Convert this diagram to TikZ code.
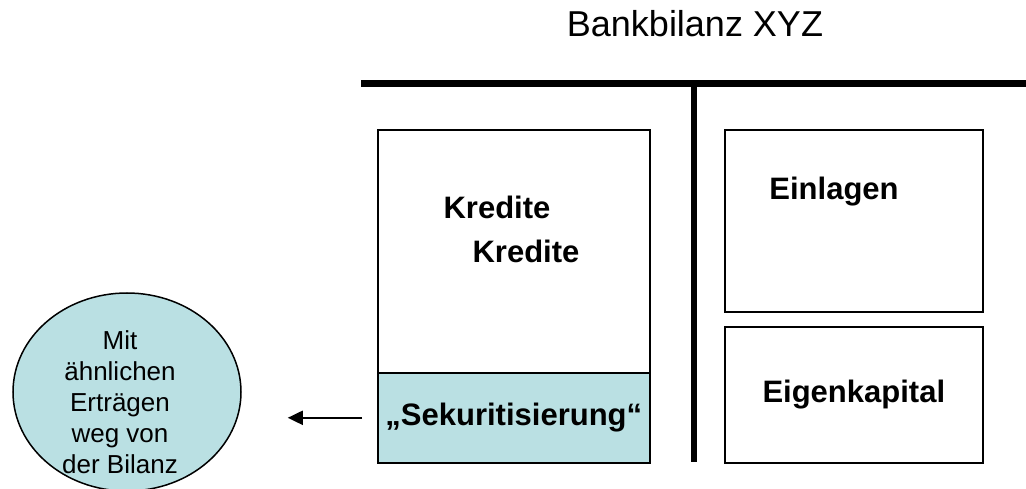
\documentclass[tikz,border=0pt]{standalone}
\usepackage{fontspec}
\setmainfont{Liberation Sans}
\usetikzlibrary{shapes.geometric,arrows.meta}
\definecolor{securblue}{RGB}{186,224,227}
\begin{document}
\begin{tikzpicture}[x=1pt,y=-1pt,
  boxframe/.style={draw=black,line width=1.6pt,inner sep=0pt,anchor=north west},
  itemlabel/.style={font=\fontsize{31}{36}\selectfont\bfseries,inner sep=0pt},
  flowarrow/.style={line width=2pt,-{Triangle[length=15pt,width=14pt]}}]
\useasboundingbox (0,0) rectangle (1026,489);

% title
\node[font=\fontsize{36}{40}\selectfont,anchor=base] (title) at (695,37) {Bankbilanz XYZ};

% T-account frame
\coordinate (tl) at (361,83.5);
\coordinate (tr) at (1026,83.5);
\coordinate (tm) at (694,83.5);
\coordinate (tb) at (694,462);
\draw[line width=7pt] (tl) -- (tr);
\draw[line width=6pt] (tm) -- (tb);

% assets side
\node[boxframe,minimum width=272pt,minimum height=243pt] (kred) at (377,129) {};
\node[boxframe,fill=securblue,minimum width=272pt,minimum height=90pt] (sek) at (377,372) {};
\node[itemlabel] (k1) at (497,207) {Kredite};
\node[itemlabel] (k2) at (526,251) {Kredite};
\node[itemlabel] (sektext) at (sek.center) {„Sekuritisierung“};

% liabilities side
\node[boxframe,minimum width=258pt,minimum height=182pt] (einl) at (724,129) {};
\node[boxframe,minimum width=258pt,minimum height=136pt] (eigk) at (724,326) {};
\node[itemlabel] (einltext) at (834,192) {Einlagen};
\node[itemlabel] (eigktext) at (eigk.center) {Eigenkapital};

% off-balance vehicle
\node[ellipse,draw=black,line width=1.5pt,fill=securblue,minimum width=228pt,minimum height=198pt,inner sep=0pt] (ell) at (127,392) {};
\node[align=center,font=\fontsize{26}{31}\selectfont,inner sep=0pt] (elltext) at (120,402)
  {Mit\\ähnlichen\\Erträgen\\weg von\\der Bilanz};

\coordinate (arrowtail) at ([xshift=-15pt]sek.west);
\coordinate (arrowtip) at ([xshift=46pt]ell.east |- sek.west);
\draw[flowarrow] (arrowtail) -- (arrowtip);
\end{tikzpicture}
\end{document}
